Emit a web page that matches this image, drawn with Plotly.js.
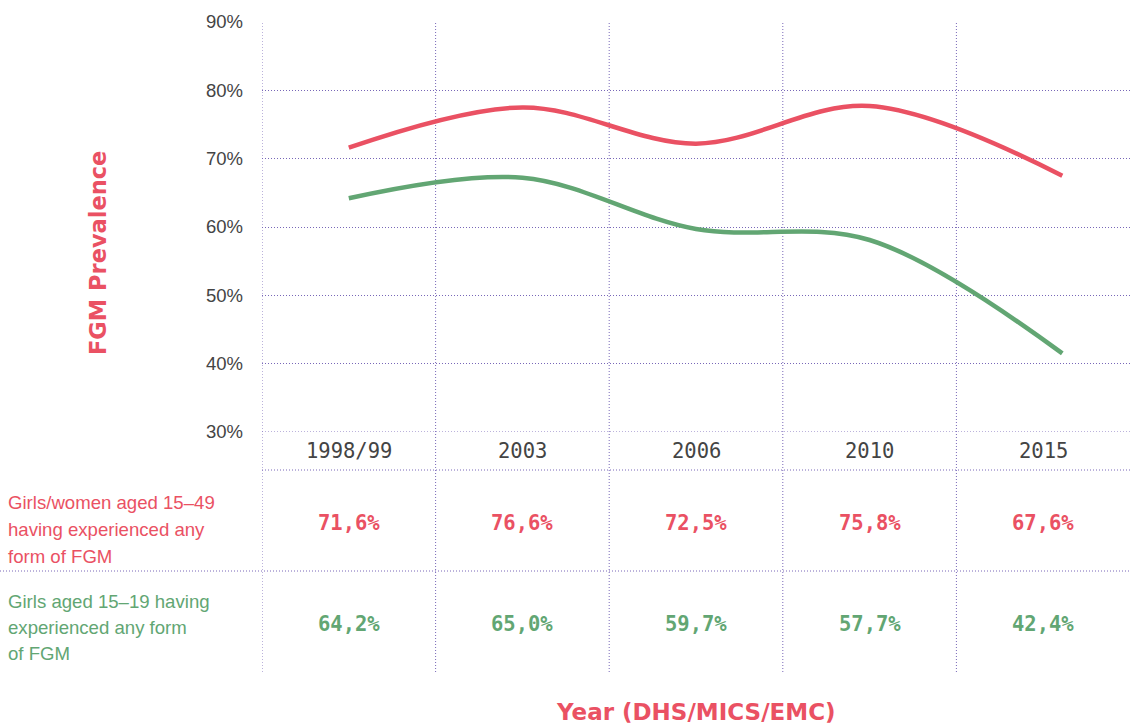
<!DOCTYPE html>
<html>
<head>
<meta charset="utf-8">
<script src="https://cdn.plot.ly/plotly-3.0.1.min.js"></script>
<style>html,body{margin:0;padding:0;background:#fff;}#chart{width:1130px;height:725px;}</style>
</head>
<body>
<div id="chart"></div>
<script>
// ---- data ----
const categories = ["1998/99", "2003", "2006", "2010", "2015"];
const curveX = [0, 1, 2, 3, 4.11];                 // positions of curve points (category index units)
const womenCurve = [71.6, 77.5, 72.2, 77.7, 67.5];
const girlsCurve = [64.2, 67.2, 59.7, 58.1, 41.5];
const womenTable = ["71,6%", "76,6%", "72,5%", "75,8%", "67,6%"];
const girlsTable = ["64,2%", "65,0%", "59,7%", "57,7%", "42,4%"];
const womenLabel = ["Girls/women aged 15\u201349", "having experienced any", "form of FGM"];
const girlsLabel = ["Girls aged 15\u201319 having", "experienced any form", "of FGM"];
const yTicks = [30, 40, 50, 60, 70, 80, 90];
const yTickText = ["30%", "40%", "50%", "60%", "70%", "80%", "90%"];

// ---- style ----
const RED = "#ea5163";
const GREEN = "#62a673";
const GRID = "#7867b8";
const DOT = "1px,2px";
const sans = "Liberation Sans, Arial, sans-serif";
const mono = "DejaVu Sans Mono, monospace";
const bold = "DejaVu Sans, sans-serif";

const H = 650, T = 22;            // plot area height / top
const py = px => (T + H - px) / H; // pixel row -> paper y

const traces = [
  {x: curveX, y: womenCurve, mode: "lines", line: {color: RED, width: 4.5, shape: "spline", smoothing: 1}, hoverinfo: "skip"},
  {x: curveX, y: girlsCurve, mode: "lines", line: {color: GREEN, width: 4.5, shape: "spline", smoothing: 1}, hoverinfo: "skip"}
];

const shapes = [];
for (let i = 0; i < categories.length; i++) {
  shapes.push({type: "line", xref: "x", yref: "paper", x0: i - 0.5, x1: i - 0.5, y0: 0, y1: 1,
    line: {color: GRID, width: 1, dash: DOT}, layer: "below"});
}
shapes.push({type: "line", xref: "paper", yref: "y", x0: 0, x1: 1, y0: yTicks[0], y1: yTicks[0],
  line: {color: GRID, width: 1, dash: DOT}, layer: "below"});
shapes.push({type: "line", xref: "paper", yref: "paper", x0: 0, x1: 1, y0: py(470), y1: py(470),
  line: {color: GRID, width: 1, dash: DOT}});
shapes.push({type: "line", xref: "paper", yref: "paper", x0: -262 / 868, x1: 1, y0: py(571), y1: py(571),
  line: {color: GRID, width: 1, dash: DOT}});

const annotations = [];
categories.forEach((c, i) => {
  annotations.push({x: i, xref: "x", y: py(451), yref: "paper", text: c, showarrow: false,
    font: {family: mono, size: 20.5, color: "#444"}, xanchor: "center", yanchor: "middle"});
  annotations.push({x: i, xref: "x", y: py(523), yref: "paper", text: womenTable[i], showarrow: false,
    font: {family: mono, size: 20.5, color: RED, weight: 700}, xanchor: "center", yanchor: "middle"});
  annotations.push({x: i, xref: "x", y: py(624), yref: "paper", text: girlsTable[i], showarrow: false,
    font: {family: mono, size: 20.5, color: GREEN, weight: 700}, xanchor: "center", yanchor: "middle"});
});
womenLabel.forEach((t, k) => {
  annotations.push({x: (6 - 262) / 868, xref: "paper", y: py(502 + 27 * k), yref: "paper", text: t,
    showarrow: false, xanchor: "left", yanchor: "middle", font: {family: sans, size: 18.6, color: RED}});
});
girlsLabel.forEach((t, k) => {
  annotations.push({x: (6 - 262) / 868, xref: "paper", y: py(601 + 26 * k), yref: "paper", text: t,
    showarrow: false, xanchor: "left", yanchor: "middle", font: {family: sans, size: 18.6, color: GREEN}});
});
annotations.push({x: (98 - 262) / 868, xref: "paper", y: py(253), yref: "paper", text: "FGM Prevalence",
  textangle: -90, showarrow: false, xanchor: "center", yanchor: "middle",
  font: {family: bold, size: 22.5, color: RED, weight: 700}});
annotations.push({x: 0.5, xref: "paper", y: py(712), yref: "paper", text: "Year (DHS/MICS/EMC)",
  showarrow: false, xanchor: "center", yanchor: "middle",
  font: {family: bold, size: 23, color: RED, weight: 700}});

const layout = {
  width: 1130, height: 725,
  margin: {l: 262, r: 0, t: T, b: 725 - T - H},
  paper_bgcolor: "#fff", plot_bgcolor: "#fff",
  showlegend: false,
  xaxis: {range: [-0.5, 4.5], showgrid: false, zeroline: false, showticklabels: false, showline: false, fixedrange: true},
  yaxis: {range: [30, 90], domain: [py(432), 1], tickmode: "array", tickvals: yTicks, ticktext: yTickText,
    showgrid: true, gridcolor: GRID, gridwidth: 1, griddash: DOT, zeroline: false, showline: false,
    ticks: "", ticklabelstandoff: 18, tickfont: {family: sans, size: 18.5, color: "#444"}, fixedrange: true},
  shapes: shapes,
  annotations: annotations,
  hovermode: false
};

Plotly.newPlot("chart", traces, layout, {displayModeBar: false, staticPlot: true});
</script>
</body>
</html>
